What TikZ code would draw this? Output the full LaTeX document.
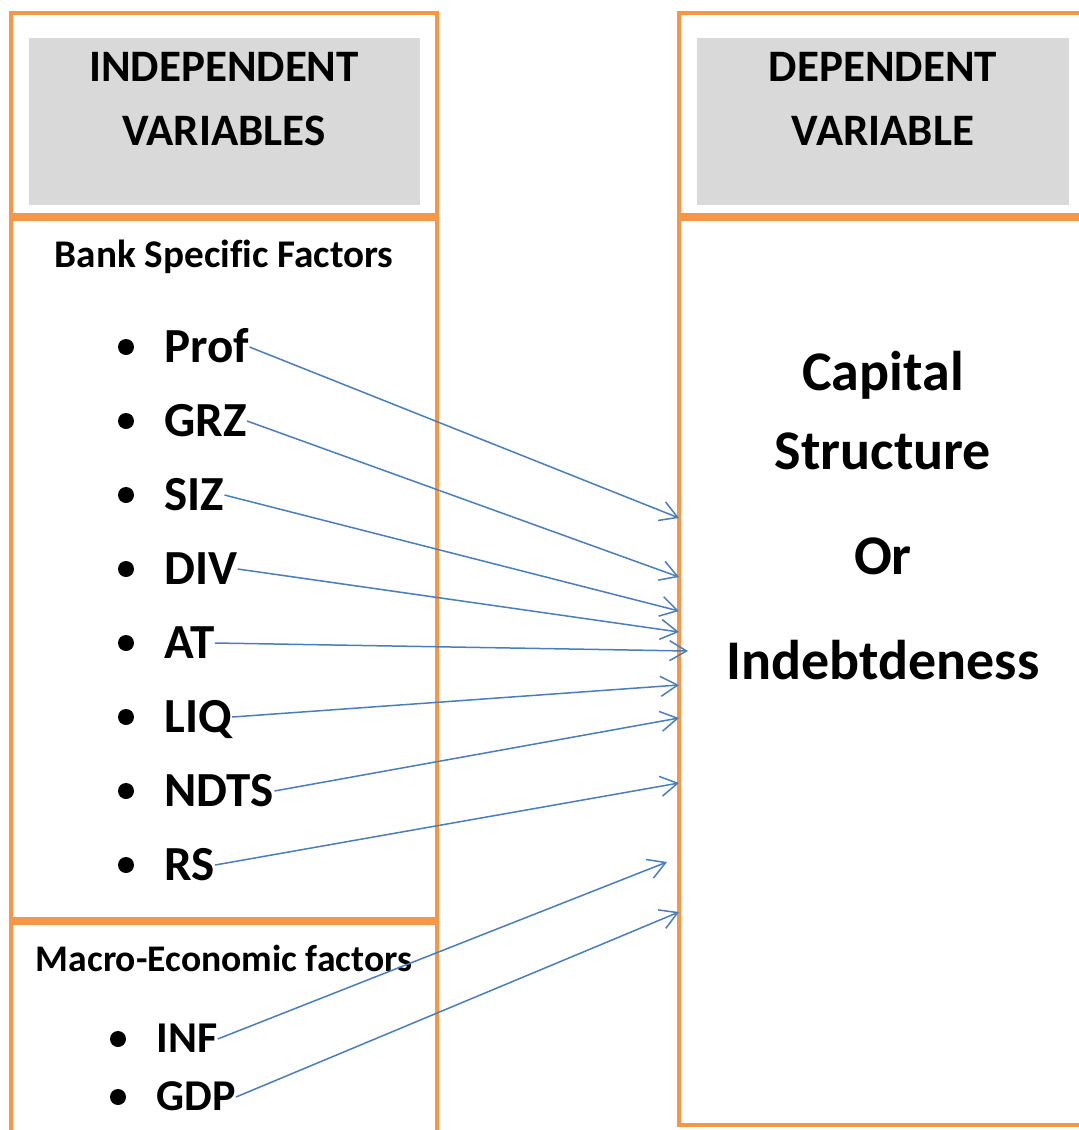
\documentclass[tikz,border=0pt]{standalone}
\usepackage{fontspec}
\setmainfont{Carlito}[Ligatures=NoCommon]
\usetikzlibrary{arrows.meta}
\definecolor{boxorange}{HTML}{F79646}
\definecolor{linkblue}{HTML}{4A7EBB}
\definecolor{headgray}{HTML}{D9D9D9}
\tikzset{
  colframe/.style={draw=boxorange, line width=2pt},
  txt/.style={inner sep=0pt, text depth=0pt},
  head/.style={txt, text height=14.2pt, font=\fontsize{22.5}{27}\selectfont\bfseries},
  group/.style={txt, text height=12.4pt, font=\fontsize{19.6}{23}\selectfont\bfseries},
  item/.style={txt, anchor=west, text height=15.5pt, font=\fontsize{24.5}{29}\selectfont\bfseries},
  macitem/.style={txt, anchor=west, text height=13.9pt, font=\fontsize{22}{26}\selectfont\bfseries},
  dep/.style={txt, text height=17.7pt, font=\fontsize{28}{34}\selectfont\bfseries},
  dot/.style={circle, fill=black, inner sep=0pt, minimum size=8pt},
  link/.style={draw=linkblue, line width=0.75pt, -{Straight Barb[length=8.5pt,width=10pt]}}
}
\begin{document}
\begin{tikzpicture}[x=0.5pt, y=-0.5pt]
  \useasboundingbox (0,0) rectangle (1078,1130);
  % boxes
  \draw[colframe] (11,13) rectangle (437,215);
  \draw[colframe] (11,219) rectangle (437,919);
  \draw[colframe] (11,1150) -- (11,923) -- (437,923) -- (437,1150);
  \draw[colframe] (679,13) rectangle (1100,215);
  \draw[colframe] (679,219) rectangle (1100,1125);
  \fill[headgray] (29,38) rectangle (420,205);
  \fill[headgray] (697,38) rectangle (1069,205);
  % headings
  \node[head] (ind1) at (224,67) {INDEPENDENT};
  \node[head] (ind2) at (224,131) {VARIABLES};
  \node[head] (dep1) at (883,67) {DEPENDENT};
  \node[head] (dep2) at (883,131) {VARIABLE};
  \node[group] (bank) at (224,255) {Bank Specific Factors};
  \node[group, font=\fontsize{18.8}{23}\selectfont\bfseries] (macro) at (224,959) {Macro-Economic factors};
  % bank specific factors
  \node[dot] at (126,347) {};
  \node[item] (prof) at (164,347) {Prof};
  \node[dot] at (126,421) {};
  \node[item] (grz) at (164,421) {GRZ};
  \node[dot] at (126,495) {};
  \node[item] (siz) at (164,495) {SIZ};
  \node[dot] at (126,569) {};
  \node[item] (div) at (164,569) {DIV};
  \node[dot] at (126,643) {};
  \node[item] (at) at (164,643) {AT};
  \node[dot] at (126,717) {};
  \node[item] (liq) at (164,717) {LIQ};
  \node[dot] at (126,791) {};
  \node[item] (ndts) at (164,791) {NDTS};
  \node[dot] at (126,865) {};
  \node[item] (rs) at (164,865) {RS};
  % macro-economic factors
  \node[dot] at (118,1039) {};
  \node[macitem] (inf) at (156,1039) {INF};
  \node[dot] at (118,1097) {};
  \node[macitem] (gdp) at (156,1097) {GDP};
  % dependent variable
  \node[dep] (capital) at (883,373) {Capital};
  \node[dep] (structure) at (883,452) {Structure};
  \node[dep] (or) at (883,557) {Or};
  \node[dep] (indebt) at (883,662) {Indebtdeness};
  % arrow ends
  \coordinate (tprof) at (679,518);
  \coordinate (tgrz) at (679,577);
  \coordinate (tsiz) at (679,611);
  \coordinate (tdiv) at (679,632);
  \coordinate (tat) at (688,651);
  \coordinate (tliq) at (679,685);
  \coordinate (tndts) at (679,718);
  \coordinate (trs) at (679,783);
  \coordinate (tinf) at (667,862);
  \coordinate (tgdp) at (679,912);
  \draw[link] (prof.east) -- (tprof);
  \draw[link] (grz.east) -- (tgrz);
  \draw[link] (siz.east) -- (tsiz);
  \draw[link] (div.east) -- (tdiv);
  \draw[link] (at.east) -- (tat);
  \draw[link] (liq.east) -- (tliq);
  \draw[link] (ndts.east) -- (tndts);
  \draw[link] (rs.east) -- (trs);
  \draw[link] (inf.east) -- (tinf);
  \draw[link] (gdp.east) -- (tgdp);
\end{tikzpicture}
\end{document}
